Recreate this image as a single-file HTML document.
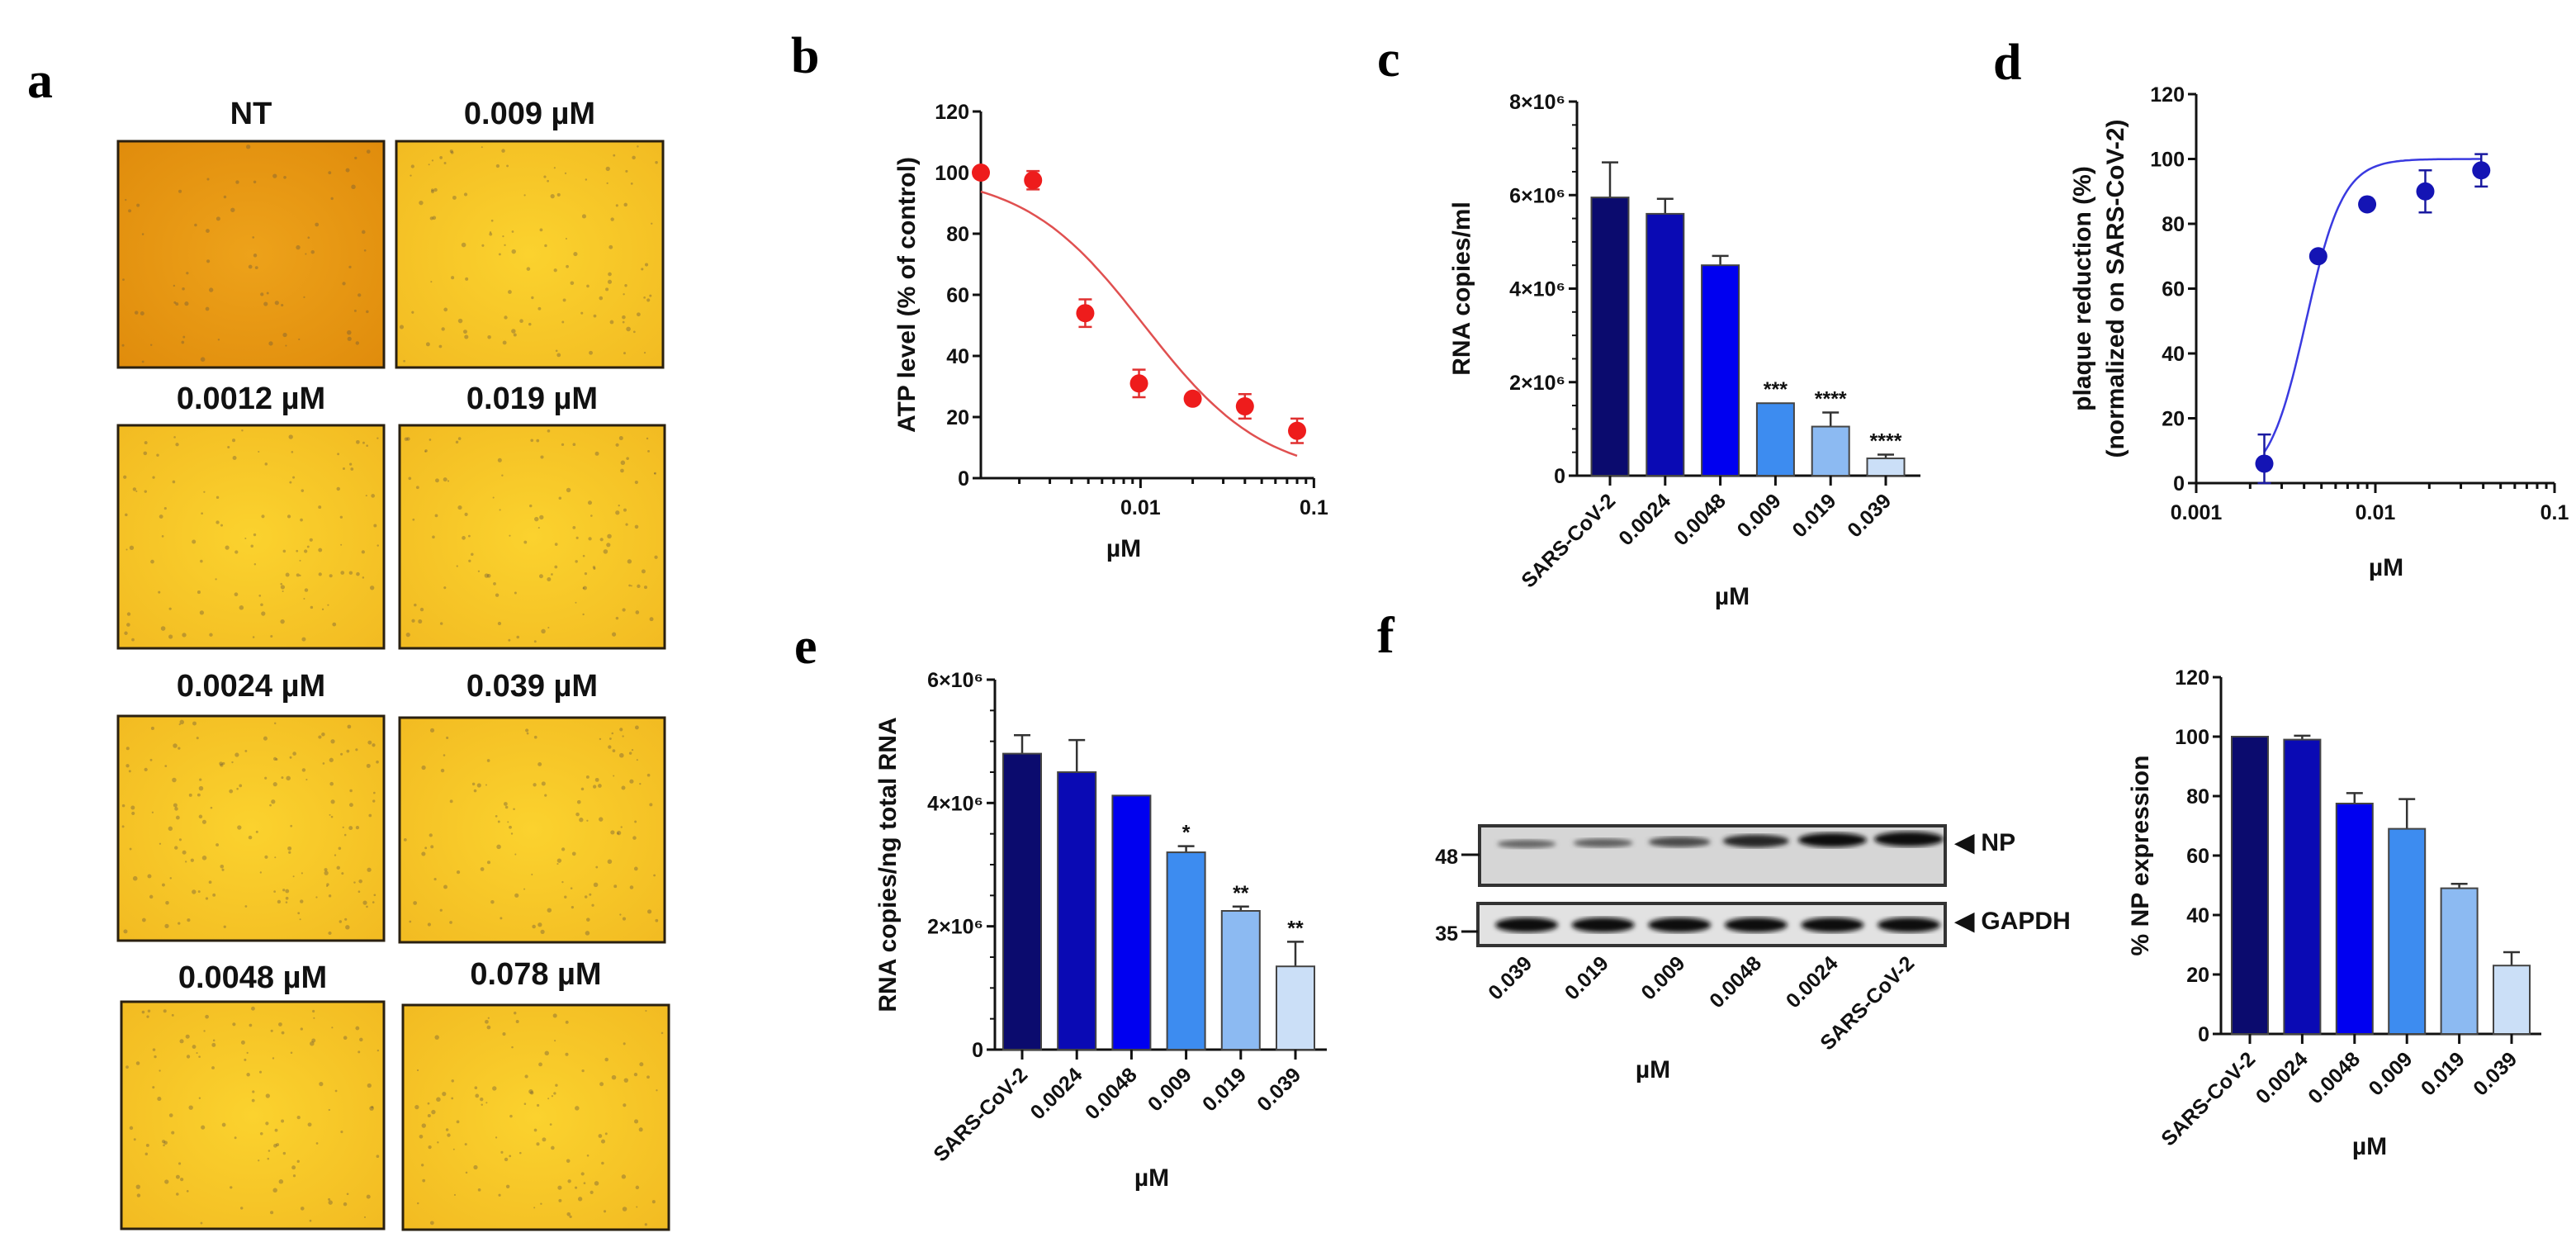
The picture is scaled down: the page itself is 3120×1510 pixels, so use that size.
<!DOCTYPE html>
<html><head><meta charset="utf-8">
<style>
html,body{margin:0;padding:0;background:#fff;}
svg{display:block;font-family:"Liberation Sans",Arial,sans-serif;}
.pl{font-family:"Liberation Serif",serif;font-weight:bold;font-size:62px;fill:#000;}
.tk{font-weight:bold;font-size:25px;fill:#111;}
.ti{font-weight:bold;font-size:30px;fill:#111;}
.mt{font-weight:bold;font-size:38px;fill:#111;}
</style></head>
<body>
<svg id="fig" width="3120" height="1510" viewBox="0 0 3120 1510" xmlns="http://www.w3.org/2000/svg">
<defs>
<radialGradient id="gNT" cx="0.5" cy="0.5" r="0.7"><stop offset="0" stop-color="#eda21a"/><stop offset="1" stop-color="#e08c0c"/></radialGradient>
<radialGradient id="gY" cx="0.5" cy="0.5" r="0.7"><stop offset="0" stop-color="#fbd22e"/><stop offset="1" stop-color="#f2bb22"/></radialGradient>
<filter id="blur1"><feGaussianBlur stdDeviation="3"/></filter>
</defs>
</svg>
<script>
// ---------- data ----------
var microLabels = ["NT","0.009 \u00b5M","0.0012 \u00b5M","0.019 \u00b5M","0.0024 \u00b5M","0.039 \u00b5M","0.0048 \u00b5M","0.078 \u00b5M"];
var bConc = [0.0012,0.0024,0.0048,0.0098,0.02,0.04,0.08];
var bATP = [100,97.5,54,31,26,23.5,15.5];
var bErr = [1,3,4.5,4.5,1.5,4,4];
var bFit = [100,0,0.0105,1.25]; // top,bottom,IC50,hill
var bTicks = [0,20,40,60,80,100,120];
var bXTicks = ["0.01","0.1"];
var catLabels = ["SARS-CoV-2","0.0024","0.0048","0.009","0.019","0.039"];
var cVals = [5.95,5.6,4.5,1.55,1.05,0.37];
var cErr = [0.75,0.32,0.2,0,0.3,0.08];
var cStars = ["","","","***","****","****"];
var cTicks = ["0","2\u00d710\u2076","4\u00d710\u2076","6\u00d710\u2076","8\u00d710\u2076"];
var dConc = [0.0024,0.0048,0.009,0.019,0.039];
var dVals = [6,70,86,90,96.5];
var dErr = [9,1.5,1,6.5,5];
var dFit = [100,0,0.0041,4.2];
var dTicks = [0,20,40,60,80,100,120];
var dXTicks = ["0.001","0.01","0.1"];
var eVals = [4.8,4.5,4.12,3.2,2.25,1.35];
var eErr = [0.3,0.52,0,0.1,0.07,0.4];
var eStars = ["","","","*","**","**"];
var eTicks = ["0","2\u00d710\u2076","4\u00d710\u2076","6\u00d710\u2076"];
var wbLanes = ["0.039","0.019","0.009","0.0048","0.0024","SARS-CoV-2"];
var wbNP = [0.35,0.4,0.55,0.8,0.95,1.0];
var fVals = [100,99,77.5,69,49,23];
var fErr = [0,1.3,3.5,10,1.5,4.5];
var fTicks = [0,20,40,60,80,100,120];
var barColors = ["#0b0b6e","#0a0ab4","#0000f0","#3d8cf0","#8cbaf2","#cbdff7"];

var svg = document.getElementById('fig');
var NS = "http://www.w3.org/2000/svg";
function mk(tag, attrs, name, inter, parent){
  var el = document.createElementNS(NS, tag);
  for (var k in attrs) el.setAttribute(k, attrs[k]);
  
  
  (parent||svg).appendChild(el);
  return el;
}
function txt(x,y,s,cls,name,extra,parent){
  var a = {x:x,y:y,'class':cls};
  if(extra) for(var k in extra) a[k]=extra[k];
  var t = mk('text',a,name,false,parent);
  t.textContent = s;
  return t;
}
function line(x1,y1,x2,y2,name,w,c,parent){
  return mk('line',{x1:x1,y1:y1,x2:x2,y2:y2,stroke:c||'#111','stroke-width':w||3},name,false,parent);
}

// ---------- panel labels ----------
[["a",33,118],["b",958,88],["c",1668,92],["d",2414,96],["e",962,803],["f",1668,790]].forEach(function(p){
  txt(p[1],p[2],p[0],'pl','panel-label-'+p[0]);
});

// ---------- panel a micrographs ----------
var seed = 7;
function rnd(){ seed = (seed*16807)%2147483647; return seed/2147483647; }
var boxes = [[143,171,322,274],[480,171,323,274],[143,515,322,270],[484,515,321,270],[143,867,322,272],[484,869,321,272],[147,1213,318,275],[488,1217,322,272]];
var labY = [150,150,495,495,843,843,1196,1192];
var gA = mk('g',{},'panel-a-micrographs',false);
boxes.forEach(function(b,i){
  var g = mk('g',{},'micrograph-'+i,false,gA);
  mk('rect',{x:b[0],y:b[1],width:b[2],height:b[3],fill:i===0?'url(#gNT)':'url(#gY)',stroke:'#2a2010','stroke-width':3},'micrograph-image',false,g);
  var n = i===0?70:(i===4?150:110);
  for(var k=0;k<n;k++){
    mk('circle',{cx:b[0]+6+rnd()*(b[2]-12),cy:b[1]+6+rnd()*(b[3]-12),r:1+rnd()*1.8,fill:'#6d5a3a',opacity:0.4},'cell-dot',false,g);
  }
  txt(b[0]+b[2]/2,labY[i],microLabels[i],'mt','micrograph-label',{'text-anchor':'middle'});
});

// ---------- generic scales ----------
function linY(v,vmax,y0,y1){ return y0 - (v/vmax)*(y0-y1); }

// ---------- panel b ----------
(function(){
  var g = mk('g',{},'panel-b-atp-chart',false);
  var X0=1188, Y0=579, Y1=135, dec=210, xmin=Math.log10(0.0012);
  function sx(c){ return X0 + (Math.log10(c)-xmin)*dec; }
  function sy(v){ return linY(v,120,Y0,Y1); }
  line(X0,Y1,X0,Y0+1,'y-axis',3,'#111',g);
  line(X0,Y0,sx(0.1),Y0,'x-axis',3,'#111',g);
  bTicks.forEach(function(t){
    line(X0-10,sy(t),X0,sy(t),'y-tick',3,'#111',g);
    txt(X0-14,sy(t)+9,String(t),'tk','y-tick-label',{'text-anchor':'end'},g);
  });
  for(var e=-3;e<=-1;e++) for(var m=1;m<10;m++){
    var c=m*Math.pow(10,e); if(c<0.0012||c>0.1001) continue;
    var major=(m===1);
    line(sx(c),Y0,sx(c),Y0+(major?12:7),'x-tick',3,'#111',g);
  }
  txt(sx(0.01),Y0+44,bXTicks[0],'tk','x-tick-label',{'text-anchor':'middle'},g);
  txt(sx(0.1),Y0+44,bXTicks[1],'tk','x-tick-label',{'text-anchor':'middle'},g);
  txt(sx(0.008),Y0+95,'\u00b5M','ti','x-axis-title',{'text-anchor':'middle'},g);
  txt(0,0,'ATP level (% of control)','ti','y-axis-title',{'text-anchor':'middle',transform:'translate(1108,'+((Y0+Y1)/2)+') rotate(-90)'},g);
  var d='';
  for(var i=0;i<=80;i++){
    var lc = Math.log10(0.0012)+i*(Math.log10(0.08)-Math.log10(0.0012))/80;
    var c = Math.pow(10,lc);
    var v = bFit[1]+(bFit[0]-bFit[1])/(1+Math.pow(c/bFit[2],bFit[3]));
    d += (i?'L':'M')+sx(c).toFixed(1)+','+sy(v).toFixed(1);
  }
  mk('path',{d:d,fill:'none',stroke:'#e05050','stroke-width':2.5},'fit-curve',false,g);
  bConc.forEach(function(c,i){
    var x=sx(c), y=sy(bATP[i]);
    line(x,sy(bATP[i]+bErr[i]),x,sy(bATP[i]-bErr[i]),'error-bar',2.5,'#e03030',g);
    line(x-8,sy(bATP[i]+bErr[i]),x+8,sy(bATP[i]+bErr[i]),'error-cap',2.5,'#e03030',g);
    line(x-8,sy(bATP[i]-bErr[i]),x+8,sy(bATP[i]-bErr[i]),'error-cap',2.5,'#e03030',g);
    mk('circle',{cx:x,cy:y,r:11,fill:'#ee1c1c'},'data-point',false,g);
  });
})();

// ---------- bar chart helper ----------
function barChart(o){
  var g = mk('g',{},o.name,false);
  function sy(v){ return linY(v,o.vmax,o.Y0,o.Y1); }
  line(o.X0,o.Y1,o.X0,o.Y0+1,'y-axis',3,'#111',g);
  line(o.X0,o.Y0,o.Xend,o.Y0,'x-axis',3,'#111',g);
  o.ticks.forEach(function(t,i){
    var v = o.tickVals[i];
    line(o.X0-10,sy(v),o.X0,sy(v),'y-tick',3,'#111',g);
    txt(o.X0-14,sy(v)+9,t,'tk','y-tick-label',{'text-anchor':'end'},g);
  });
  if(o.minor){
    for(var v=0; v<=o.vmax+1e-9; v+=o.minor){
      line(o.X0-6,sy(v),o.X0,sy(v),'y-minor-tick',2,'#111',g);
    }
  }
  o.vals.forEach(function(v,i){
    var cx = o.cx0 + i*o.step;
    var top = sy(v);
    if(o.err[i]>0){
      line(cx,sy(v+o.err[i]),cx,top,'error-bar',2.5,'#333',g);
      line(cx-10,sy(v+o.err[i]),cx+10,sy(v+o.err[i]),'error-cap',2.5,'#333',g);
    }
    mk('rect',{x:cx-o.bw/2,y:top,width:o.bw,height:o.Y0-top,fill:barColors[i],stroke:'#444','stroke-width':2},'bar-'+catLabels[i],false,g);
    line(cx,o.Y0,cx,o.Y0+12,'x-tick',3,'#111',g);
    txt(0,0,catLabels[i],'tk','x-tick-label',{'text-anchor':'end',transform:'translate('+(cx+8)+','+(o.Y0+32)+') rotate(-45)'},g);
    if(o.stars && o.stars[i]){
      txt(cx,sy(v+o.err[i])-8,o.stars[i],'tk','significance-stars',{'text-anchor':'middle','font-size':'20'},g);
    }
  });
  txt(o.muX,o.muY,'\u00b5M','ti','x-axis-title',{'text-anchor':'middle'},g);
  txt(0,0,o.ytitle,'ti','y-axis-title',{'text-anchor':'middle',transform:'translate('+o.ytX+','+((o.Y0+o.Y1)/2)+') rotate(-90)'},g);
}
barChart({name:'panel-c-rna-chart',X0:1910,Y0:576,Y1:123,Xend:2326,vmax:8,ticks:cTicks,tickVals:[0,2,4,6,8],minor:0.5,
  vals:cVals,err:cErr,stars:cStars,cx0:1950,step:66.8,bw:45,muX:2098,muY:732,ytitle:'RNA copies/ml',ytX:1780});
barChart({name:'panel-e-rna-chart',X0:1205,Y0:1271,Y1:823,Xend:1607,vmax:6,ticks:eTicks,tickVals:[0,2,4,6],minor:0.5,
  vals:eVals,err:eErr,stars:eStars,cx0:1238,step:66.2,bw:46,muX:1395,muY:1436,ytitle:'RNA copies/ng total RNA',ytX:1085});
barChart({name:'panel-f-np-chart',X0:2690,Y0:1252,Y1:820,Xend:3078,vmax:120,ticks:fTicks.map(String),tickVals:fTicks,minor:0,
  vals:fVals,err:fErr,stars:null,cx0:2725,step:63.4,bw:44,muX:2870,muY:1398,ytitle:'% NP expression',ytX:2602});

// ---------- panel d ----------
(function(){
  var g = mk('g',{},'panel-d-plaque-chart',false);
  var X0=2660, Y0=585, Y1=114, dec=217;
  function sx(c){ return X0 + (Math.log10(c)+3)*dec; }
  function sy(v){ return linY(v,120,Y0,Y1); }
  line(X0,Y1,X0,Y0+1,'y-axis',3,'#111',g);
  line(X0,Y0,sx(0.1),Y0,'x-axis',3,'#111',g);
  dTicks.forEach(function(t){
    line(X0-10,sy(t),X0,sy(t),'y-tick',3,'#111',g);
    txt(X0-14,sy(t)+9,String(t),'tk','y-tick-label',{'text-anchor':'end'},g);
  });
  for(var e=-3;e<=-1;e++) for(var m=1;m<10;m++){
    var c=m*Math.pow(10,e); if(c>0.1001) continue;
    line(sx(c),Y0,sx(c),Y0+(m===1?12:7),'x-tick',3,'#111',g);
  }
  dXTicks.forEach(function(t,i){
    txt(sx(Math.pow(10,-3+i)),Y0+44,t,'tk','x-tick-label',{'text-anchor':'middle'},g);
  });
  txt(2890,697,'\u00b5M','ti','x-axis-title',{'text-anchor':'middle'},g);
  txt(0,0,'plaque reduction (%)','ti','y-axis-title',{'text-anchor':'middle',transform:'translate(2532,'+((Y0+Y1)/2)+') rotate(-90)'},g);
  txt(0,0,'(normalized on SARS-CoV-2)','ti','y-axis-title-line2',{'text-anchor':'middle',transform:'translate(2572,'+((Y0+Y1)/2)+') rotate(-90)'},g);
  var d='';
  var lo=Math.log10(0.0024), hi=Math.log10(0.039);
  for(var i=0;i<=100;i++){
    var c=Math.pow(10,lo+i*(hi-lo)/100);
    var v=dFit[1]+(dFit[0]-dFit[1])/(1+Math.pow(dFit[2]/c,dFit[3]));
    d+=(i?'L':'M')+sx(c).toFixed(1)+','+sy(v).toFixed(1);
  }
  mk('path',{d:d,fill:'none',stroke:'#3a3ae0','stroke-width':2.5},'fit-curve',false,g);
  dConc.forEach(function(c,i){
    var x=sx(c);
    var lo2=Math.max(0,dVals[i]-dErr[i]);
    line(x,sy(dVals[i]+dErr[i]),x,sy(lo2),'error-bar',2.5,'#1a1aa0',g);
    line(x-8,sy(dVals[i]+dErr[i]),x+8,sy(dVals[i]+dErr[i]),'error-cap',2.5,'#1a1aa0',g);
    line(x-8,sy(lo2),x+8,sy(lo2),'error-cap',2.5,'#1a1aa0',g);
    mk('circle',{cx:x,cy:sy(dVals[i]),r:11,fill:'#1414b4'},'data-point',false,g);
  });
})();

// ---------- panel f western blot ----------
(function(){
  var g = mk('g',{},'panel-f-western-blot',false);
  var laneX0=1849, laneStep=92.6;
  mk('rect',{x:1792,y:1000,width:564,height:72,fill:'#d6d6d6',stroke:'#333','stroke-width':4},'np-blot',false,g);
  mk('rect',{x:1790,y:1094,width:566,height:51,fill:'#e2e2e2',stroke:'#333','stroke-width':4},'gapdh-blot',false,g);
  wbNP.forEach(function(v,i){
    var cx=laneX0+i*laneStep;
    var gr=Math.round(150-140*v);
    mk('ellipse',{cx:cx,cy:1022-i*1.2,rx:32+10*v,ry:3+6*v,fill:'rgb('+gr+','+gr+','+gr+')',filter:'url(#blur1)'},'np-band',false,g);
    mk('ellipse',{cx:cx,cy:1120,rx:38,ry:9,fill:'#111',filter:'url(#blur1)'},'gapdh-band',false,g);
    txt(0,0,wbLanes[i],'tk','lane-label',{'text-anchor':'end',transform:'translate('+(cx+8)+',1168) rotate(-45)'},g);
  });
  line(1770,1035,1792,1035,'marker-tick',3,'#111',g);
  line(1770,1128,1790,1128,'marker-tick',3,'#111',g);
  txt(1766,1046,'48','tk','marker-48',{'text-anchor':'end','font-size':'28'},g);
  txt(1766,1139,'35','tk','marker-35',{'text-anchor':'end','font-size':'28'},g);
  txt(2368,1030,'\u25C0 NP','ti','np-label',{},g);
  txt(2368,1125,'\u25C0 GAPDH','ti','gapdh-label',{},g);
  txt(2002,1305,'\u00b5M','ti','x-axis-title',{'text-anchor':'middle'},g);
})();
</script>
</body></html>
